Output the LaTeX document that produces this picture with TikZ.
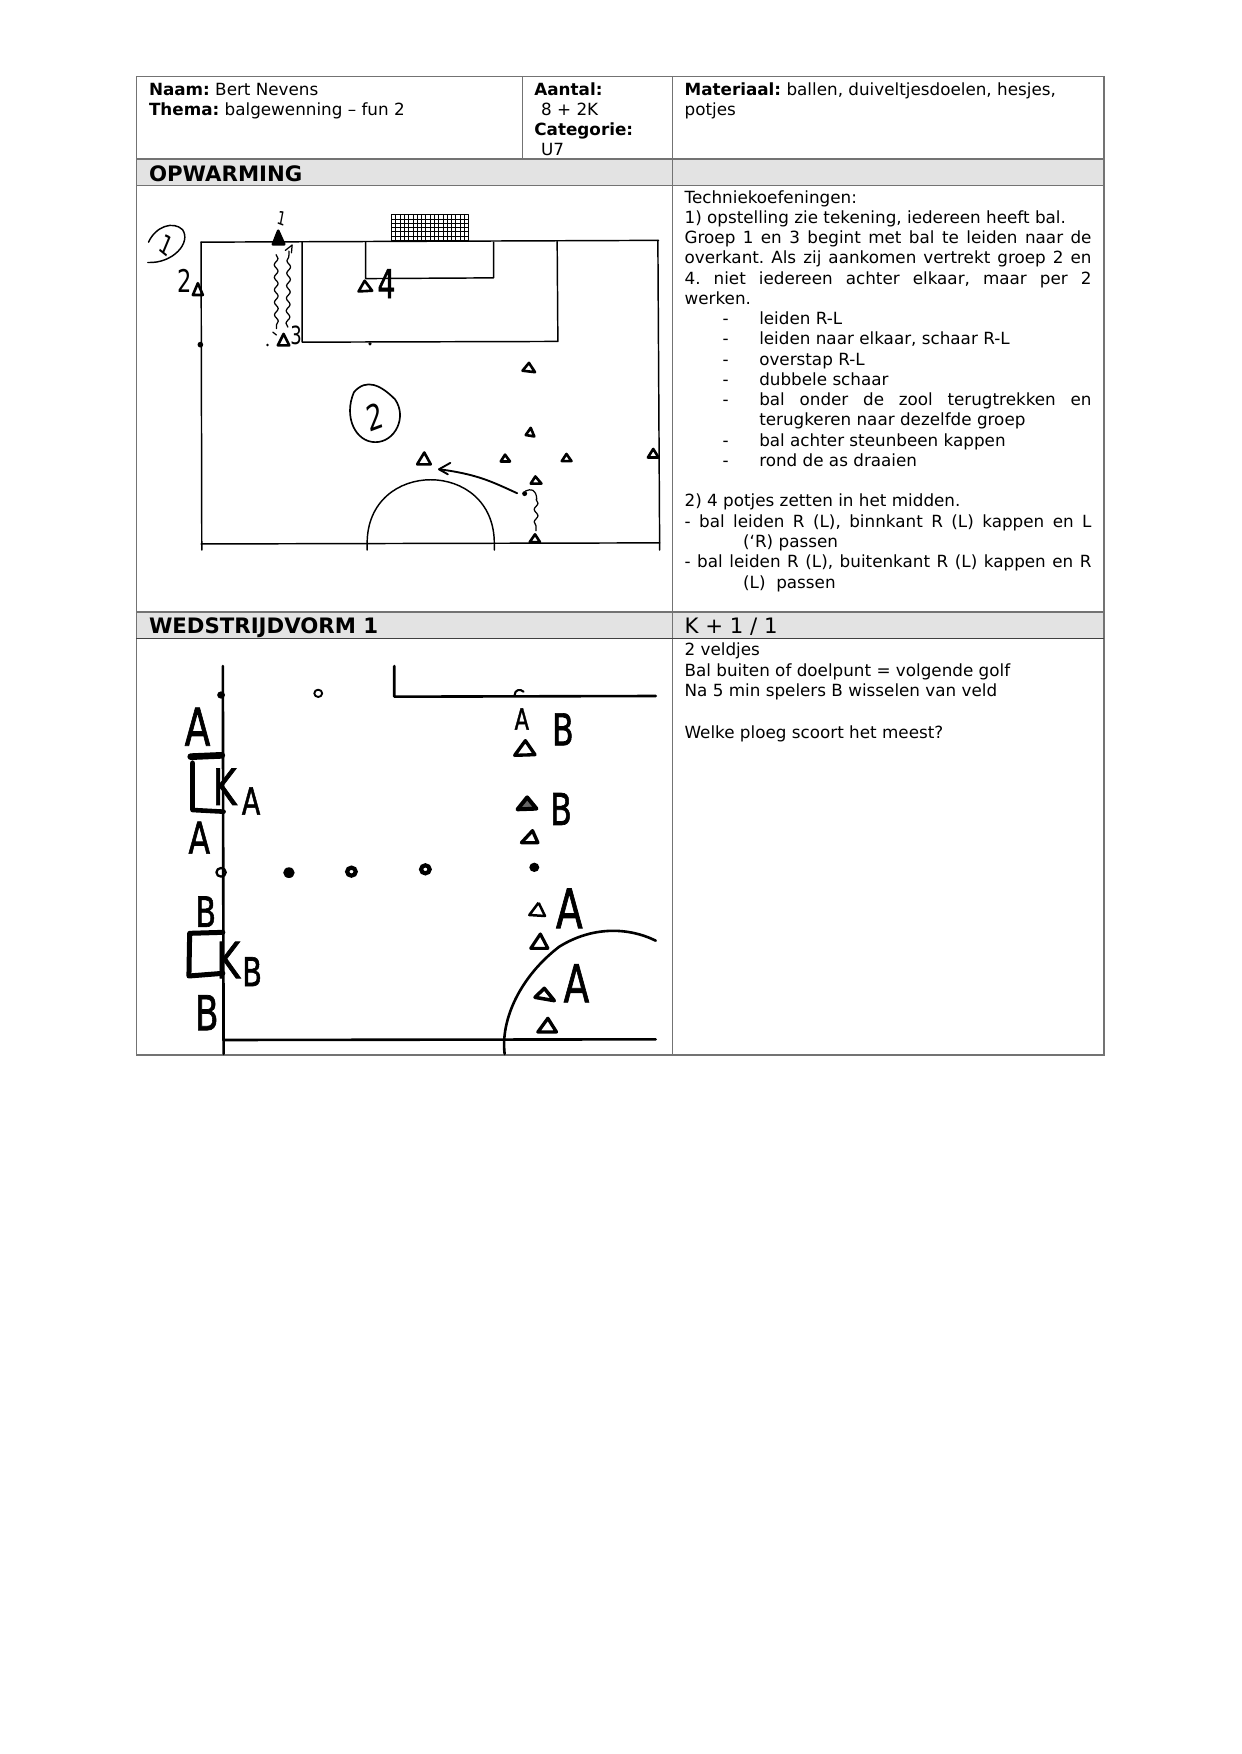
\documentclass[tikz,border=0pt]{standalone}
\usepackage{fontspec}
\setmainfont{DejaVu Sans}
\newfontfamily\handfont[FakeBold=1.6]{DejaVu Sans}
\usetikzlibrary{decorations.pathmorphing,arrows.meta}
\newdimen\colw \colw=195.2bp
\newcommand{\bodyf}{\fontsize{8.05bp}{9.7bp}\selectfont\frenchspacing}
\newcommand{\headf}{\fontsize{10.2bp}{12bp}\selectfont\frenchspacing}
\newcommand{\lineJ}[1]{\hbox to \colw{#1}}
\newcommand{\lineL}[1]{\hbox to \colw{#1\hfil}}
\newcommand{\bulL}[1]{\hbox to \colw{\hskip18.2bp\hbox to 17.6bp{-\hfil}#1\hfil}}
\newcommand{\bulJ}[1]{\hbox to \colw{\hskip18.2bp\hbox to 17.6bp{-\hfil}#1}}
\newcommand{\bulC}[1]{\hbox to \colw{\hskip35.8bp #1\hfil}}
\newcommand{\contL}[1]{\hbox to \colw{\hskip28.1bp #1\hfil}}
\newcommand{\blot}[3]{\fill (#1,#2) ellipse [x radius=#3,y radius=#3];}
\tikzset{
  tline/.style={draw=black!55,line width=.62bp},
  band/.style={fill=black!11},
  txt/.style={anchor=base west,inner sep=0pt,font=\bodyf},
  hd/.style={anchor=base west,inner sep=0pt,font=\headf},
  sk/.style={black,line width=.7bp,line cap=round,line join=round},
  skb/.style={black,line width=1.25bp,line cap=round,line join=round},
  wig/.style={sk,line width=.6bp,decorate,decoration={snake,amplitude=.9bp,segment length=6bp}},
  hand/.style={anchor=center,inner sep=0pt,xscale=.72,transform shape},
}
\begin{document}
\begin{tikzpicture}[x=.4797bp,y=-.4797bp]
\useasboundingbox (0,0) rectangle (1241,1754);
\fill[white] (0,0) rectangle (1241,1754);
% bands
\fill[band] (136.4,159) rectangle (1104,185.7);
\fill[band] (136.4,612) rectangle (1104,638.7);
% table rules
\draw[tline] (136.4,76.8) rectangle (1104,1055);
\draw[tline] (522.5,76.8) -- (522.5,159);
\draw[tline] (672.8,76.8) -- (672.8,1055);
\draw[tline] (136.4,159) -- (1104,159);
\draw[tline] (136.4,185.7) -- (1104,185.7);
\draw[tline] (136.4,612) -- (1104,612);
\draw[tline,draw=black!75] (136.4,638.7) -- (1104,638.7);
% header text
\node[txt] (naam) at (148.6,95.6) {\textbf{Naam:} Bert Nevens};
\node[txt] (thema) at (148.6,115.8) {\textbf{Thema:} balgewenning – fun 2};
\node[txt] (aantal) at (534,95.6) {\textbf{Aantal:}};
\node[txt] (aantalv) at (540.7,115.8) {8 + 2K};
\node[txt] (cat) at (534,135.9) {\textbf{Categorie:}};
\node[txt] (catv) at (540.7,155.4) {U7};
\node[txt] (mat) at (684.2,95.6) {\textbf{Materiaal:} ballen, duiveltjesdoelen, hesjes,};
\node[txt] (matb) at (684.2,115.8) {potjes};
\node[hd] (opw) at (148.6,181.7) {\textbf{OPWARMING}};
\node[hd] (wed) at (148.6,633.6) {\textbf{WEDSTRIJDVORM 1}};
\node[hd] (kaa) at (684.2,633.6) {K + 1 / 1};
% right column text
\node[txt] (tech) at (684.2,203) {\vtop{\baselineskip=9.72bp\lineskip=0pt\lineskiplimit=-20pt
  \lineL{Techniekoefeningen:}
  \lineL{1) opstelling zie tekening, iedereen heeft bal.}
  \lineJ{Groep 1 en 3 begint met bal te leiden naar de}
  \lineJ{overkant. Als zij aankomen vertrekt groep 2 en}
  \lineJ{4. niet iedereen achter elkaar, maar per 2}
  \lineL{werken.}
  \bulL{leiden R-L}
  \bulL{leiden naar elkaar, schaar R-L}
  \bulL{overstap R-L}
  \bulL{dubbele schaar}
  \bulJ{bal onder de zool terugtrekken en}
  \bulC{terugkeren naar dezelfde groep}
  \bulL{bal achter steunbeen kappen}
  \bulL{rond de as draaien}
  \lineL{}
  \lineL{2) 4 potjes zetten in het midden.}
  \lineJ{- bal leiden R (L), binnkant R (L) kappen en L}
  \contL{(‘R) passen}
  \lineJ{- bal leiden R (L), buitenkant R (L) kappen en R}
  \contL{(L)\ \ passen}
}};
\node[txt] (wedtxt) at (684.2,655.6) {\vtop{\baselineskip=9.9bp\lineskip=0pt\lineskiplimit=-20pt
  \lineL{2 veldjes}
  \lineL{Bal buiten of doelpunt = volgende golf}
  \lineL{Na 5 min spelers B wisselen van veld}
  \lineL{}
  \lineL{Welke ploeg scoort het meest?}
}};
% ===== sketch 1, in crop coordinates =====
\begin{scope}[shift={(120,60)}]
\begin{scope}[x=.4797bp/2.8,y=-.4797bp/2.8]
\draw[sk] (227,510) -- (229,1372);
\draw[sk] (1506,505) -- (1511,1372);
\draw[sk] (227,510) -- (1508,505);
\draw[sk] (227,1355) -- (1511,1352);
\draw[sk] (510,510) -- (510,790) -- (1226,788) -- (1224,508);
\draw[sk] (688,510) -- (688,612) -- (1046,610) -- (1046,510);
% goal net
\draw[sk,line width=.45bp] (760,433) rectangle (975,507);
\foreach \i in {772,784,...,970} \draw[black,line width=.3bp] (\i,433) -- (\i,507);
\foreach \j in {445,457,...,505} \draw[black,line width=.3bp] (760,\j) -- (975,\j);
% arc
\draw[sk] (692,1372) -- (692,1353) .. controls (692,1116) and (1048,1116) .. (1048,1353) -- (1048,1372);
% cones
\draw[skb,fill=black] (443,478) -- (428,516) -- (460,516) -- cycle;
\draw[skb] (218,625) -- (204,658) -- (232,658) -- cycle;
\draw[skb] (458,767) -- (442,799) -- (474,799) -- cycle;
\draw[skb] (685,618) -- (668,648) -- (706,646) -- cycle;
\draw[skb] (1145,848) -- (1127,870) -- (1162,874) -- cycle;
\draw[skb] (1150,1030) -- (1136,1050) -- (1160,1054) -- cycle;
\draw[skb] (1078,1105) -- (1066,1124) -- (1092,1124) -- cycle;
\draw[skb] (1250,1103) -- (1237,1123) -- (1264,1123) -- cycle;
\draw[skb] (1493,1089) -- (1478,1113) -- (1508,1113) -- cycle;
\draw[skb] (852,1099) -- (832,1132) -- (870,1132) -- cycle;
\draw[skb] (1163,1166) -- (1150,1186) -- (1180,1186) -- cycle;
\draw[skb] (1162,1328) -- (1147,1350) -- (1176,1350) -- cycle;
% dots
\fill (225,797) circle [radius=8];
\fill (700,795) circle [radius=5];
\fill (413,798) circle [radius=4];
% wiggles
\draw[wig] (437,545) -- (438,752);
\draw[wig] (470,748) -- (473,535);
\draw[sk,line width=.6bp] (463,533) -- (482,518) -- (480,540);
\draw[sk,line width=.6bp] (428,762) -- (438,770);
\draw[wig] (1165,1230) -- (1165,1318);
\draw[sk,line width=.6bp] (1135,1207) .. controls (1150,1200) and (1165,1200) .. (1167,1230);
\fill (1133,1214) circle [radius=7];
% pass arrow
\draw[sk,line width=.9bp] (1112,1213) .. controls (1040,1180) and (1000,1160) .. (895,1146);
\draw[sk,line width=.9bp] (925,1128) -- (893,1146) -- (918,1160);
% hand circles
\draw[sk] (80,510) .. controls (100,465) and (150,450) .. (175,475) .. controls (200,510) and (150,570) .. (78,567);
\draw[sk,line width=.8bp] (655,930) .. controls (690,890) and (730,910) .. (770,950) .. controls (805,1000) and (770,1070) .. (715,1070) .. controls (660,1070) and (625,1000) .. (655,930);
% labels
\node[hand,rotate=-15,font=\fontsize{9bp}{9bp}\selectfont] (one) at (452,443) {1};
\node[hand,rotate=-30,font=\fontsize{13bp}{13bp}\selectfont] (onec) at (130,518) {1};
\node[hand,font=\fontsize{15bp}{15bp}\selectfont] (two) at (182,618) {2};
\node[hand,font=\fontsize{12bp}{12bp}\selectfont] (three) at (493,772) {3};
\node[hand,font=\handfont\fontsize{19bp}{19bp}\selectfont] (four) at (746,626) {4};
\node[hand,rotate=15,font=\fontsize{17bp}{17bp}\selectfont] (twoc) at (715,998) {2};
\end{scope}
\end{scope}
% ===== sketch 2, in crop coordinates =====
\begin{scope}[shift={(120,610)}]
\begin{scope}[x=.4797bp/2.8,y=-.4797bp/3]
\draw[skb] (288,168) -- (290,1332);
\draw[skb] (768,168) -- (768,260) -- (1500,258);
\draw[skb] (290,1290) -- (1500,1288);
\draw[skb] (1077,1332) .. controls (1065,1230) and (1120,1100) .. (1230,1010) .. controls (1320,950) and (1420,950) .. (1500,992);
% keeper boxes
\draw[black,line width=3.2bp,line cap=round] (198,440) -- (285,436);
\draw[black,line width=2.2bp,line join=round,line cap=round] (203,458) -- (203,600) -- (290,605);
\draw[black,line width=2.4bp,line join=round,line cap=round] (288,967) -- (195,970) -- (193,1098) -- (288,1090);
% balls
\draw[sk,line width=.9bp] (555,250) circle [radius=11];
\blot{283}{255}{11}
\draw[sk,line width=1bp] (1105,255) .. controls (1105,240) and (1120,235) .. (1130,245);
\draw[sk,line width=1.1bp] (283,787) circle [radius=13];
\blot{473}{788}{16}
\draw[black,line width=2bp] (648,785) circle [radius=12];
\draw[black,line width=2bp] (855,778) circle [radius=12];
\blot{1160}{772}{14}
% triangles
\draw[black,line width=1.6bp,line join=round] (1135,392) -- (1105,436) -- (1162,434) -- cycle;
\draw[black,line width=1.9bp,line join=round,fill=black!60] (1140,562) -- (1113,598) -- (1166,596) -- cycle;
\draw[black,line width=1.6bp,line join=round] (1155,662) -- (1124,698) -- (1170,698) -- cycle;
\draw[black,line width=1.2bp,line join=round,dash pattern=on 22 off 6] (1172,878) -- (1146,915) -- (1190,918) -- cycle;
\draw[black,line width=1.5bp,line join=round] (1177,972) -- (1150,1015) -- (1198,1015) -- cycle;
\draw[black,line width=1.7bp,line join=round] (1188,1135) -- (1162,1162) -- (1216,1172) -- cycle;
\draw[black,line width=1.6bp,line join=round] (1198,1225) -- (1170,1266) -- (1222,1266) -- cycle;
% letters
\node[hand,font=\handfont\fontsize{25bp}{25bp}\selectfont] (a1) at (217,350) {A};
\node[hand,font=\handfont\fontsize{21bp}{21bp}\selectfont] (a2) at (222,683) {A};
\node[hand,font=\handfont\fontsize{20bp}{20bp}\selectfont] (b1) at (240,905) {B};
\node[hand,font=\handfont\fontsize{23bp}{23bp}\selectfont] (b2) at (243,1208) {B};
\node[hand,font=\handfont\fontsize{24bp}{24bp}\selectfont] (ka) at (293,530) {K};
\node[hand,font=\handfont\fontsize{18bp}{18bp}\selectfont] (kas) at (367,573) {A};
\node[hand,font=\handfont\fontsize{24bp}{24bp}\selectfont] (kb) at (303,1050) {K};
\node[hand,font=\handfont\fontsize{19bp}{19bp}\selectfont] (kbs) at (370,1085) {B};
\node[hand,font=\handfont\fontsize{14bp}{14bp}\selectfont] (cap) at (1125,327) {A};
\node[hand,font=\handfont\fontsize{21bp}{21bp}\selectfont] (br1) at (1240,358) {B};
\node[hand,font=\handfont\fontsize{21bp}{21bp}\selectfont] (br2) at (1235,597) {B};
\node[hand,font=\handfont\fontsize{26bp}{26bp}\selectfont] (ar1) at (1258,895) {A};
\node[hand,font=\handfont\fontsize{25bp}{25bp}\selectfont] (ar2) at (1278,1120) {A};
\end{scope}
\end{scope}
\end{tikzpicture}
\end{document}
